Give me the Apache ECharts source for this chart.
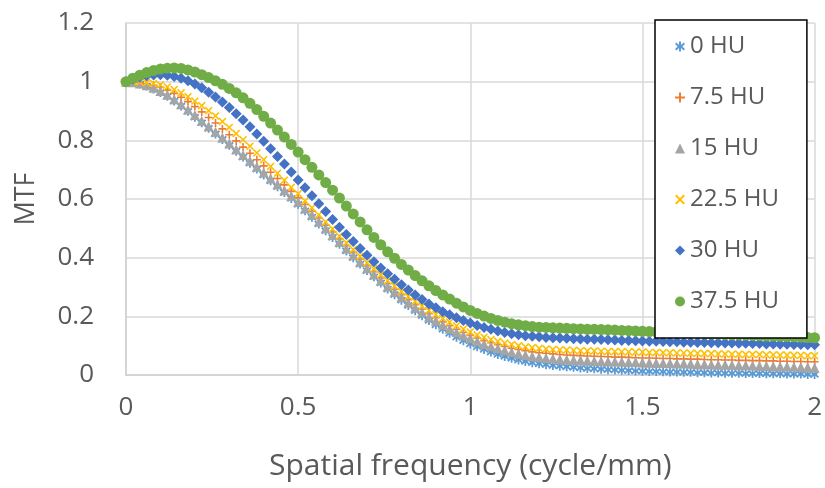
<!DOCTYPE html>
<html>
<head>
<meta charset="utf-8">
<script src="https://cdn.jsdelivr.net/npm/echarts@6/dist/echarts.min.js"></script>
<style>html,body{margin:0;padding:0;background:#fff}#c{width:825px;height:488px}</style>
</head>
<body>
<div id="c"></div>
<script>
var freq = [0,0.02,0.04,0.06,0.08,0.1,0.12,0.14,0.16,0.18,0.2,0.22,0.24,0.26,0.28,0.3,0.32,0.34,0.36,0.38,0.4,0.42,0.44,0.46,0.48,0.5,0.52,0.54,0.56,0.58,0.6,0.62,0.64,0.66,0.68,0.7,0.72,0.74,0.76,0.78,0.8,0.82,0.84,0.86,0.88,0.9,0.92,0.94,0.96,0.98,1,1.02,1.04,1.06,1.08,1.1,1.12,1.14,1.16,1.18,1.2,1.22,1.24,1.26,1.28,1.3,1.32,1.34,1.36,1.38,1.4,1.42,1.44,1.46,1.48,1.5,1.52,1.54,1.56,1.58,1.6,1.62,1.64,1.66,1.68,1.7,1.72,1.74,1.76,1.78,1.8,1.82,1.84,1.86,1.88,1.9,1.92,1.94,1.96,1.98,2];

var seriesNames = ['0 HU','7.5 HU','15 HU','22.5 HU','30 HU','37.5 HU'];

var mtf0 = [1.000,0.997,0.992,0.985,0.975,0.963,0.950,0.934,0.917,0.899,0.879,0.860,0.841,0.822,0.803,0.783,0.763,0.743,0.722,0.702,0.682,0.662,0.642,0.622,0.602,0.582,0.560,0.538,0.515,0.492,0.469,0.446,0.423,0.400,0.378,0.356,0.335,0.314,0.293,0.274,0.255,0.237,0.219,0.202,0.186,0.171,0.156,0.142,0.129,0.117,0.106,0.096,0.087,0.078,0.070,0.063,0.057,0.051,0.046,0.042,0.038,0.035,0.032,0.030,0.028,0.026,0.024,0.022,0.021,0.020,0.018,0.017,0.016,0.015,0.014,0.013,0.012,0.012,0.011,0.010,0.010,0.009,0.009,0.008,0.008,0.007,0.007,0.006,0.006,0.006,0.005,0.005,0.005,0.004,0.004,0.004,0.003,0.003,0.003,0.002,0.002];

var mtf75 = [1.000,0.999,0.997,0.993,0.988,0.981,0.971,0.960,0.947,0.932,0.915,0.897,0.878,0.859,0.839,0.819,0.798,0.777,0.756,0.734,0.713,0.691,0.670,0.648,0.626,0.604,0.581,0.558,0.535,0.511,0.488,0.464,0.441,0.418,0.395,0.373,0.352,0.331,0.311,0.292,0.274,0.257,0.240,0.224,0.209,0.195,0.181,0.168,0.156,0.145,0.135,0.126,0.117,0.110,0.103,0.097,0.091,0.087,0.083,0.079,0.076,0.074,0.072,0.070,0.068,0.067,0.066,0.065,0.064,0.063,0.062,0.061,0.061,0.060,0.059,0.058,0.058,0.057,0.056,0.056,0.055,0.055,0.054,0.054,0.053,0.052,0.052,0.051,0.051,0.050,0.050,0.049,0.049,0.048,0.048,0.047,0.047,0.046,0.046,0.045,0.045];

var mtf15 = [1.000,0.998,0.994,0.988,0.979,0.968,0.955,0.940,0.923,0.905,0.886,0.867,0.848,0.829,0.810,0.790,0.770,0.750,0.730,0.710,0.690,0.670,0.650,0.630,0.610,0.590,0.568,0.546,0.523,0.500,0.477,0.454,0.431,0.408,0.386,0.364,0.343,0.322,0.302,0.283,0.265,0.247,0.230,0.214,0.199,0.185,0.171,0.158,0.146,0.135,0.125,0.115,0.106,0.098,0.091,0.084,0.078,0.073,0.068,0.064,0.061,0.058,0.056,0.054,0.052,0.051,0.050,0.049,0.048,0.047,0.046,0.046,0.045,0.044,0.044,0.043,0.042,0.041,0.041,0.040,0.039,0.039,0.038,0.037,0.037,0.036,0.035,0.035,0.034,0.033,0.033,0.032,0.031,0.031,0.030,0.029,0.029,0.028,0.027,0.026,0.025];

var mtf225 = [1.000,1.000,0.999,0.997,0.994,0.989,0.982,0.973,0.962,0.949,0.934,0.918,0.901,0.883,0.864,0.844,0.823,0.802,0.780,0.757,0.734,0.711,0.688,0.664,0.640,0.618,0.594,0.570,0.546,0.522,0.498,0.474,0.451,0.428,0.405,0.383,0.362,0.342,0.322,0.303,0.285,0.268,0.251,0.235,0.220,0.206,0.193,0.180,0.168,0.157,0.147,0.137,0.129,0.121,0.115,0.109,0.104,0.100,0.096,0.093,0.091,0.089,0.087,0.086,0.085,0.084,0.083,0.082,0.082,0.081,0.080,0.080,0.079,0.079,0.078,0.078,0.077,0.077,0.076,0.076,0.075,0.075,0.074,0.074,0.073,0.073,0.072,0.072,0.071,0.071,0.070,0.070,0.070,0.069,0.069,0.068,0.068,0.067,0.067,0.066,0.066];

var mtf30 = [1.000,1.008,1.015,1.020,1.023,1.024,1.022,1.018,1.012,1.003,0.992,0.979,0.964,0.948,0.931,0.912,0.891,0.869,0.846,0.822,0.797,0.771,0.745,0.719,0.692,0.665,0.638,0.611,0.584,0.557,0.530,0.504,0.479,0.455,0.431,0.408,0.386,0.365,0.345,0.326,0.308,0.290,0.273,0.257,0.242,0.229,0.216,0.205,0.195,0.186,0.177,0.169,0.162,0.156,0.150,0.145,0.141,0.137,0.134,0.132,0.130,0.128,0.127,0.126,0.125,0.124,0.123,0.122,0.122,0.121,0.120,0.119,0.118,0.118,0.117,0.116,0.115,0.115,0.114,0.113,0.113,0.112,0.112,0.111,0.111,0.110,0.110,0.109,0.109,0.108,0.108,0.107,0.107,0.106,0.106,0.105,0.105,0.104,0.104,0.103,0.103];

var mtf375 = [1.000,1.012,1.022,1.031,1.038,1.043,1.046,1.047,1.045,1.040,1.033,1.024,1.014,1.003,0.991,0.977,0.962,0.945,0.926,0.905,0.882,0.859,0.835,0.811,0.786,0.760,0.734,0.708,0.682,0.656,0.630,0.603,0.576,0.549,0.522,0.495,0.469,0.444,0.420,0.398,0.377,0.358,0.339,0.321,0.304,0.288,0.273,0.259,0.245,0.232,0.220,0.210,0.201,0.193,0.186,0.180,0.175,0.171,0.168,0.165,0.163,0.162,0.161,0.160,0.159,0.158,0.157,0.156,0.156,0.155,0.154,0.153,0.152,0.151,0.150,0.149,0.148,0.147,0.146,0.146,0.145,0.144,0.143,0.142,0.141,0.140,0.139,0.138,0.137,0.137,0.136,0.135,0.134,0.133,0.133,0.132,0.131,0.130,0.129,0.128,0.127];

var xTicks = [0, 0.5, 1, 1.5, 2];
var yTicks = [0, 0.2, 0.4, 0.6, 0.8, 1, 1.2];

var allValues = [mtf0, mtf75, mtf15, mtf225, mtf30, mtf375];
var colors = ['#5B9BD5','#ED7D31','#A5A5A5','#FFC000','#4472C4','#70AD47'];
var symbols = [
  'path://M4,0L6,0L6,3.6L8.6,1L10,2.4L7.4,5L10,7.6L8.6,9L6,6.4L6,10L4,10L4,6.4L1.4,9L0,7.6L2.6,5L0,2.4L1.4,1L4,3.6Z',
  'path://M4,0L6,0L6,4L10,4L10,6L6,6L6,10L4,10L4,6L0,6L0,4L4,4Z',
  'triangle',
  'path://M0,1.4L1.4,0L5,3.6L8.6,0L10,1.4L6.4,5L10,8.6L8.6,10L5,6.4L1.4,10L0,8.6L3.6,5Z',
  'diamond',
  'circle'
];
var sizes = [9, 8, 10, 8, 11, 11];

var series = seriesNames.map(function (name, i) {
  return {
    name: name,
    type: 'scatter',
    symbol: symbols[i],
    symbolSize: sizes[i],
    itemStyle: { color: colors[i], opacity: 1 },
    data: freq.map(function (f, k) { return [f, allValues[i][k]]; }),
    animation: false,
    emphasis: { disabled: true }
  };
});

var font = '"Open Sans", "Noto Sans", sans-serif';
var chart = echarts.init(document.getElementById('c'));
chart.setOption({
  backgroundColor: '#ffffff',
  animation: false,
  grid: { left: 126, right: 10, top: 23, bottom: 113, containLabel: false },
  xAxis: {
    type: 'value', min: xTicks[0], max: xTicks[xTicks.length - 1], interval: 0.5,
    name: 'Spatial frequency (cycle/mm)', nameLocation: 'middle', nameGap: 76,
    nameTextStyle: { color: '#595959', fontSize: 30, fontFamily: font },
    axisLine: { show: true, lineStyle: { color: '#D0D0D0', width: 1.5 } },
    axisTick: { show: false },
    axisLabel: { color: '#595959', fontSize: 26, fontFamily: font, margin: 20 },
    splitLine: { show: true, lineStyle: { color: '#D9D9D9', width: 1.5 } }
  },
  yAxis: {
    type: 'value', min: yTicks[0], max: yTicks[yTicks.length - 1], interval: 0.2,
    name: 'MTF', nameLocation: 'middle', nameGap: 86,
    nameTextStyle: { color: '#595959', fontSize: 27, fontFamily: font },
    axisLine: { show: true, lineStyle: { color: '#D0D0D0', width: 1.5 } },
    axisTick: { show: false },
    axisLabel: { color: '#595959', fontSize: 26, fontFamily: font, margin: 32 },
    splitLine: { show: true, lineStyle: { color: '#D9D9D9', width: 1.5 } }
  },
  legend: {
    orient: 'vertical',
    left: 655, top: 20,
    padding: [14, 28, 24, 20],
    itemWidth: 10, itemHeight: 10, itemGap: 26, itemTextGap: 14,
    backgroundColor: '#ffffff',
    borderColor: '#000000', borderWidth: 1.5,
    textStyle: { color: '#595959', fontSize: 24, fontFamily: font, lineHeight: 25 },
    data: seriesNames
  },
  series: series
});
</script>
</body>
</html>
